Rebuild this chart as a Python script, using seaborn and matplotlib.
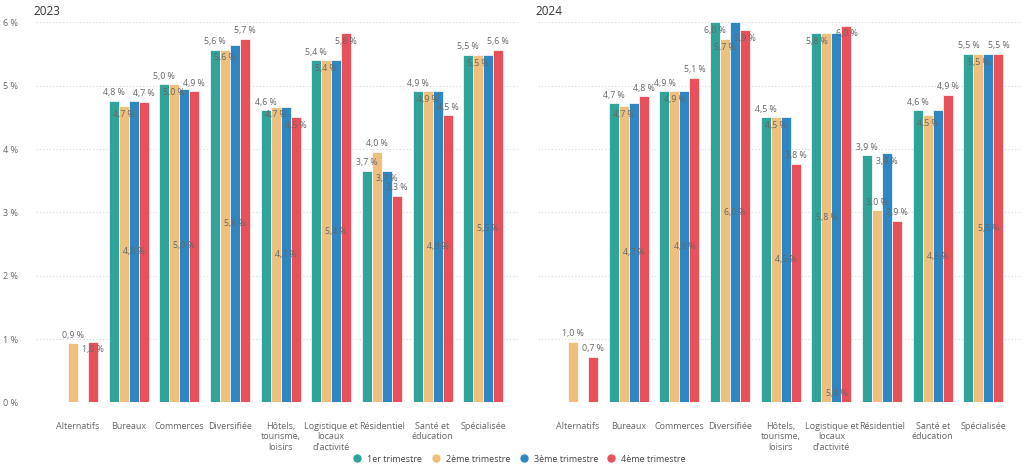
import pandas as pd
import numpy as np
import matplotlib
matplotlib.use("Agg")
import matplotlib.pyplot as plt
from matplotlib.lines import Line2D
import seaborn as sns

categories = ["Alternatifs", "Bureaux", "Commerces", "Diversifiée", "Hôtels,\ntourisme,\nloisirs",
              "Logistique et\nlocaux\nd'activité", "Résidentiel", "Santé et\néducation", "Spécialisée"]
quarters = ["1er trimestre", "2ème trimestre", "3ème trimestre", "4ème trimestre"]
colors = ["#30A39A", "#EFBF7D", "#2E87C3", "#E9515A"]

# taux par trimestre (en %)
t1_2023 = [np.nan, 4.76, 5.02, 5.56, 4.61, 5.40, 3.66, 4.91, 5.49]
t2_2023 = [0.93, 4.68, 5.02, 5.57, 4.67, 5.40, 3.96, 4.91, 5.49]
t3_2023 = [np.nan, 4.76, 4.95, 5.64, 4.67, 5.40, 3.66, 4.91, 5.49]
t4_2023 = [0.96, 4.74, 4.91, 5.74, 4.50, 5.83, 3.26, 4.53, 5.57]

t1_2024 = [np.nan, 4.72, 4.91, 6.00, 4.50, 5.83, 3.90, 4.61, 5.50]
t2_2024 = [0.96, 4.68, 4.91, 5.74, 4.50, 5.83, 3.03, 4.53, 5.50]
t3_2024 = [np.nan, 4.73, 4.91, 6.00, 4.50, 5.83, 3.93, 4.61, 5.50]
t4_2024 = [0.72, 4.83, 5.13, 5.88, 3.77, 5.95, 2.87, 4.86, 5.50]

# position des étiquettes (out = au-dessus, end = sous le haut, mid = milieu, base = en bas)
pos_2023 = [["out", "out", "out", "out", "out", "out", "out", "out", "out"],
            ["out", "end", "end", "end", "end", "end", "out", "end", "end"],
            ["mid", "mid", "mid", "mid", "mid", "mid", "end", "mid", "mid"],
            ["end", "out", "out", "out", "end", "end", "out", "out", "out"]]
pos_2024 = [["out", "out", "out", "end", "out", "end", "out", "out", "out"],
            ["out", "end", "end", "end", "end", "mid", "out", "end", "end"],
            ["mid", "mid", "mid", "mid", "mid", "base", "end", "mid", "mid"],
            ["out", "out", "out", "end", "out", "end", "out", "out", "out"]]


def make_df(series):
    rows = []
    for q, vals in zip(quarters, series):
        for c, v in zip(categories, vals):
            rows.append({"categorie": c, "trimestre": q, "taux": v})
    return pd.DataFrame(rows)


df_2023 = make_df([t1_2023, t2_2023, t3_2023, t4_2023])
df_2024 = make_df([t1_2024, t2_2024, t3_2024, t4_2024])

sns.set_style("white")
plt.rcParams["font.family"] = ["Open Sans", "DejaVu Sans"]
txt_color = "#666666"

fig = plt.figure(figsize=(10.24, 4.67), dpi=100)
ax1 = fig.add_axes([0.035, 0.1385, 0.471, 0.8135])
ax2 = fig.add_axes([0.525, 0.1385, 0.473, 0.8135])

for ax, df, pos, year, xlim in [(ax1, df_2023, pos_2023, "2023", (-0.83, 8.69)),
                                (ax2, df_2024, pos_2024, "2024", (-0.80, 8.76))]:
    sns.barplot(data=df, x="categorie", y="taux", hue="trimestre", hue_order=quarters,
                order=categories, palette=colors, saturation=1, width=0.79, ax=ax,
                legend=False, edgecolor="white", linewidth=0.5, errorbar=None)
    ax.set_ylim(0, 6)
    ax.set_xlim(*xlim)
    ax.set_xlabel("")
    ax.set_ylabel("")
    ax.set_yticks([0, 1, 2, 3, 4, 5, 6])
    ax.yaxis.grid(True, linestyle=(0, (1, 2)), color="#d8d8d8", linewidth=0.8)
    ax.set_axisbelow(True)
    for s in ax.spines.values():
        s.set_visible(False)
    ax.tick_params(axis="x", length=0, pad=14, labelsize=6.5, labelcolor=txt_color)
    ax.tick_params(axis="y", length=0, pad=13, labelsize=6.5, labelcolor=txt_color)
    ax.set_yticklabels([f"{v} %" for v in range(7)])
    ax.text(-0.005, 1.03, year, transform=ax.transAxes, fontsize=8.5, color="#333333",
            ha="left", va="center")

    # étiquettes de valeurs
    for qi, cont in enumerate(ax.containers):
        for bar in cont.patches:
            h = bar.get_height()
            if np.isnan(h) or h == 0:
                continue
            xc = bar.get_x() + bar.get_width() / 2
            ci = int(round(xc))
            mode = pos[qi][ci]
            lab = f"{h:.1f} %".replace(".", ",")
            if mode == "out":
                y, dy = h, 6
            elif mode == "end":
                y, dy = h, -6
            elif mode == "mid":
                y, dy = h / 2, 0
            else:
                y, dy = 0, 6.5
            ax.annotate(lab, (xc, y), xytext=(0, dy), textcoords="offset points",
                        ha="center", va="center", fontsize=6.3, color=txt_color,
                        annotation_clip=False)

ax2.set_yticklabels([])

handles = [Line2D([0], [0], marker="o", linestyle="", markersize=5, markerfacecolor=c,
                  markeredgecolor=c) for c in colors]
fig.legend(handles, quarters, loc="center", bbox_to_anchor=(0.505, 0.017), ncol=4,
           frameon=False, fontsize=6.5, handletextpad=0.1, columnspacing=0.5,
           labelcolor="#444444")

fig.savefig("out.png", dpi=100)
